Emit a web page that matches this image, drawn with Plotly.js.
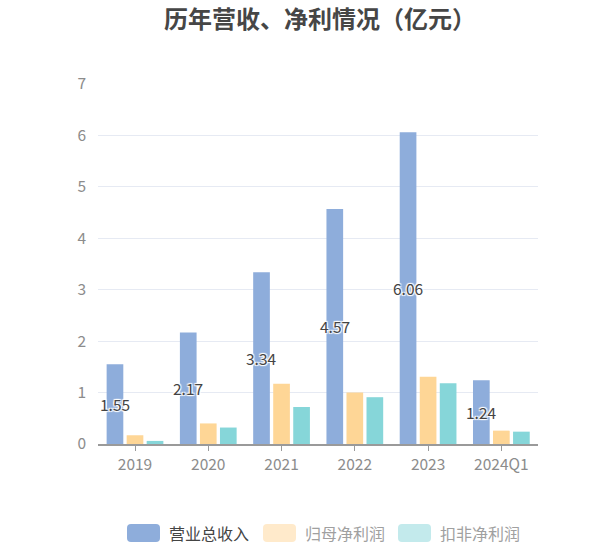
<!DOCTYPE html>
<html>
<head>
<meta charset="utf-8">
<script src="https://cdn.plot.ly/plotly-3.0.1.min.js"></script>
<style>
  body { margin: 0; background: #fff; }
  #chart { width: 610px; height: 550px; }
</style>
</head>
<body>
<div id="chart"></div>
<script>
// 历年营收、净利情况（亿元）
const years = ['2019', '2020', '2021', '2022', '2023', '2024Q1'];
const revenue = [1.55, 2.17, 3.34, 4.57, 6.06, 1.24];
const netProfit = [0.17, 0.40, 1.17, 1.00, 1.31, 0.26];
const deductedProfit = [0.06, 0.32, 0.72, 0.91, 1.18, 0.24];
const seriesNames = ['营业总收入', '归母净利润', '扣非净利润'];
const colors = ['#8eaddb', '#fed696', '#86d6d9'];
// legend swatches of the two profit series look faded in the original
const legendColors = ['#8eaddb', '#ffeacb', '#c3eaec'];
const legendText = ['#444', '#a0a0a0', '#a0a0a0'];

const font = '"Noto Sans CJK SC", "Noto Sans", sans-serif';
const W = 610, H = 550;
const M = { l: 98, r: 72, t: 84, b: 106 };
const plotW = W - M.l - M.r, plotH = H - M.t - M.b;
const px = x => (x - M.l) / plotW;          // pixel -> paper x
const py = y => (H - M.b - y) / plotH;      // pixel -> paper y

const bar = (name, y, color) => ({
    type: 'bar',
    name,
    x: years,
    y,
    marker: { color },
    showlegend: false
});

const traces = [
    bar(seriesNames[0], revenue, colors[0]),
    bar(seriesNames[1], netProfit, colors[1]),
    bar(seriesNames[2], deductedProfit, colors[2])
];

// value labels centred in the revenue bars (category index as x)
const annotations = years.map((yr, i) => ({
    xref: 'x', yref: 'y',
    x: i,
    y: revenue[i] / 2,
    text: revenue[i].toFixed(2),
    showarrow: false,
    xshift: -20,
    font: { family: font, size: 15.5, color: '#444', shadow: '1px 1px 1px #fff, -1px -1px 1px #fff, 1px -1px 1px #fff, -1px 1px 1px #fff' }
}));

// hand-made legend: rounded swatches + labels along the bottom
const roundRect = (x0, y0, x1, y1, r) => {
    const X = v => px(v), Y = v => py(v);
    return `M${X(x0 + r)},${Y(y0)} L${X(x1 - r)},${Y(y0)} Q${X(x1)},${Y(y0)} ${X(x1)},${Y(y0 + r)} ` +
        `L${X(x1)},${Y(y1 - r)} Q${X(x1)},${Y(y1)} ${X(x1 - r)},${Y(y1)} L${X(x0 + r)},${Y(y1)} ` +
        `Q${X(x0)},${Y(y1)} ${X(x0)},${Y(y1 - r)} L${X(x0)},${Y(y0 + r)} Q${X(x0)},${Y(y0)} ${X(x0 + r)},${Y(y0)} Z`;
};
const legendX = [127, 263, 398];
const shapes = [];
seriesNames.forEach((name, i) => {
    shapes.push({
        type: 'path', xref: 'paper', yref: 'paper',
        path: roundRect(legendX[i], 524, legendX[i] + 33, 542, 4),
        fillcolor: legendColors[i], line: { width: 0 }
    });
    annotations.push({
        xref: 'paper', yref: 'paper',
        x: px(legendX[i] + 40), y: py(533),
        xanchor: 'left', yanchor: 'middle',
        text: name, showarrow: false,
        font: { family: font, size: 16, color: legendText[i] }
    });
});

Plotly.newPlot('chart', traces, {
    width: W,
    height: H,
    margin: M,
    paper_bgcolor: '#fff',
    plot_bgcolor: '#fff',
    font: { family: font },
    title: {
        text: '<b>历年营收、净利情况（亿元）</b>',
        xref: 'container', yref: 'container',
        x: 320 / W,
        xanchor: 'center',
        y: 1 - 20 / H,
        yanchor: 'middle',
        font: { family: font, size: 24, color: '#464646' }
    },
    barmode: 'group',
    bargap: 0.18,
    bargroupgap: 0.167,
    showlegend: false,
    xaxis: {
        type: 'category',
        categoryorder: 'array',
        categoryarray: years,
        showgrid: false,
        showline: true,
        linecolor: '#9a9a9a',
        linewidth: 2,
        ticks: 'outside',
        ticklen: 5,
        tickcolor: '#9a9a9a',
        tickfont: { family: font, size: 15.5, color: '#8c8c8c' },
        fixedrange: true
    },
    yaxis: {
        range: [0, 7],
        dtick: 1,
        showgrid: true,
        gridcolor: '#e6eaf3',
        gridwidth: 1,
        zeroline: false,
        showline: false,
        ticks: '',
        ticklabelstandoff: 11,
        tickfont: { family: font, size: 15.5, color: '#8c8c8c' },
        fixedrange: true
    },
    shapes,
    annotations
}, { displayModeBar: false, staticPlot: true });
</script>
</body>
</html>
